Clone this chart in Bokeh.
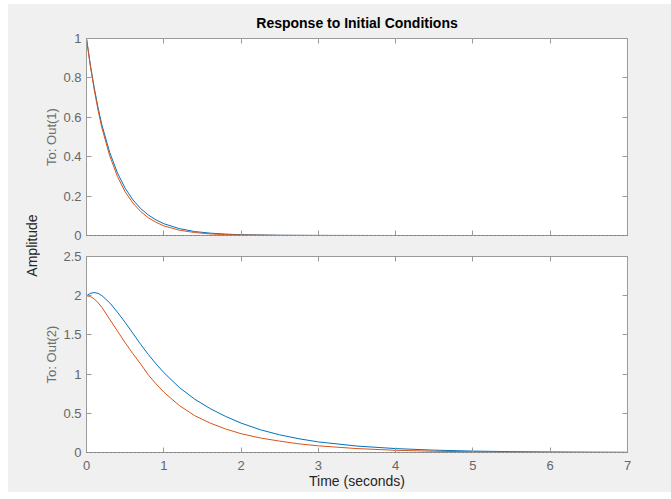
from bokeh.plotting import figure
from bokeh.models import Range1d, LinearAxis, FixedTicker, Span, Label
from bokeh.layouts import row, column
from bokeh.embed import file_html
from bokeh.resources import INLINE

# ---------------- data ----------------
t_top = [0, 0.05, 0.1, 0.15, 0.2, 0.3, 0.4, 0.5, 0.6, 0.7, 0.8, 0.9, 1.0,
         1.2, 1.4, 1.6, 1.8, 2.0, 2.5, 3.0, 4.0, 5.0, 6.0, 7.0]
out1_blue = [1.0, 0.865, 0.75, 0.648, 0.56, 0.422, 0.318, 0.24, 0.181, 0.137,
             0.104, 0.079, 0.060, 0.035, 0.020, 0.012, 0.007, 0.004, 0.0012,
             0.0004, 0.0, 0.0, 0.0, 0.0]
out1_orange = [1.0, 0.86, 0.74, 0.635, 0.545, 0.405, 0.30, 0.222, 0.165, 0.122,
               0.090, 0.067, 0.049, 0.027, 0.015, 0.008, 0.0045, 0.0025, 0.0006,
               0.0002, 0.0, 0.0, 0.0, 0.0]

t_bot = [0, 0.05, 0.1, 0.15, 0.2, 0.3, 0.4, 0.5, 0.6, 0.7, 0.8, 0.9, 1.0,
         1.2, 1.4, 1.6, 1.8, 2.0, 2.25, 2.5, 2.75, 3.0, 3.5, 4.0, 4.5, 5.0,
         5.5, 6.0, 6.5, 7.0]
out2_blue = [2.00, 2.03, 2.04, 2.03, 2.00, 1.91, 1.79, 1.66, 1.52, 1.38, 1.25,
             1.13, 1.02, 0.83, 0.68, 0.56, 0.46, 0.375, 0.29, 0.225, 0.175,
             0.135, 0.082, 0.05, 0.03, 0.018, 0.011, 0.0065, 0.004, 0.0025]
out2_orange = [2.00, 1.99, 1.96, 1.91, 1.85, 1.70, 1.55, 1.40, 1.26, 1.13, 0.99,
               0.875, 0.77, 0.60, 0.47, 0.375, 0.30, 0.24, 0.185, 0.145, 0.11,
               0.085, 0.05, 0.028, 0.016, 0.009, 0.005, 0.003, 0.0015, 0.001]

x_ticks = [0, 1, 2, 3, 4, 5, 6, 7]
x_tick_labels = ["0", "1", "2", "3", "4", "5", "6", "7"]
y1_ticks = [0, 0.2, 0.4, 0.6, 0.8, 1.0]
y1_tick_labels = ["0", "0.2", "0.4", "0.6", "0.8", "1"]
y2_ticks = [0, 0.5, 1.0, 1.5, 2.0, 2.5]
y2_tick_labels = ["0", "0.5", "1", "1.5", "2", "2.5"]

title_text = "Response to Initial Conditions"
ylabel_common = "Amplitude"
ylabel_1 = "To: Out(1)"
ylabel_2 = "To: Out(2)"
xlabel_text = "Time (seconds)"

# ---------------- styles ----------------
BLUE = "#0072BD"
ORANGE = "#D95319"
GRAY_BG = "#f0f0f0"
BOX = "#9a9a9a"
TICKLAB = "#666666"
FONT = "Liberation Sans"


def style_axis(ax, ticks, labels=None, show_labels=True):
    ax.ticker = FixedTicker(ticks=ticks)
    ax.axis_line_color = BOX
    ax.major_tick_line_color = BOX
    ax.major_tick_in = 5
    ax.major_tick_out = 0
    ax.minor_tick_line_color = None
    ax.major_label_text_font = FONT
    if show_labels:
        ax.major_label_text_color = TICKLAB
        ax.major_label_text_font_size = "13px"
        ax.major_label_overrides = {tk: lb for tk, lb in zip(ticks, labels)}
    else:
        # tick marks only: labels are not drawn at all
        ax.major_label_text_color = None
        ax.major_label_text_alpha = 0
        ax.major_label_text_font_size = "1px"
        ax.major_label_standoff = 0


def make_panel(height, top, bottom, yticks, ylabels, ylab, xlabels_visible):
    p = figure(width=631, height=height, output_backend="svg",
               toolbar_location=None, x_range=Range1d(0, 7),
               y_range=Range1d(yticks[0], yticks[-1]),
               min_border_left=46, min_border_right=44,
               min_border_top=top, min_border_bottom=bottom)
    p.border_fill_color = GRAY_BG
    p.background_fill_color = "white"
    p.outline_line_color = BOX
    p.grid.visible = False
    xa = p.xaxis[0]
    ya = p.yaxis[0]
    style_axis(xa, x_ticks, x_tick_labels, show_labels=xlabels_visible)
    style_axis(ya, yticks, ylabels)
    ya.major_label_standoff = 5
    ya.axis_label = ylab
    ya.axis_label_text_font = FONT
    ya.axis_label_text_font_size = "13px"
    ya.axis_label_text_font_style = "normal"
    ya.axis_label_text_color = "#6e6e6e"
    ya.axis_label_standoff = 1
    ra = LinearAxis()
    style_axis(ra, yticks, show_labels=False)
    p.add_layout(ra, "right")
    ta = LinearAxis()
    style_axis(ta, x_ticks, show_labels=False)
    p.add_layout(ta, "above")
    p.add_layout(Span(location=0, dimension="width", line_color="#404040",
                      line_dash="1 3", line_width=1))
    return p, xa, ya


p1, xa1, ya1 = make_panel(242, 34, 11, y1_ticks, y1_tick_labels, ylabel_1, False)
p1.line(t_top, out1_blue, line_color=BLUE, line_width=1)
p1.line(t_top, out1_orange, line_color=ORANGE, line_width=1)
p1.title.text = title_text
p1.title.align = "center"
p1.title.text_font = FONT
p1.title.text_font_size = "14px"
p1.title.text_font_style = "bold"
p1.title.text_color = "#000000"
p1.title.standoff = 15

p2, xa2, ya2 = make_panel(246, 10, 40, y2_ticks, y2_tick_labels, ylabel_2, True)
p2.line(t_bot, out2_blue, line_color=BLUE, line_width=1)
p2.line(t_bot, out2_orange, line_color=ORANGE, line_width=1)
xa2.major_label_standoff = 8
xa2.axis_label = xlabel_text
xa2.axis_label_text_font = FONT
xa2.axis_label_text_font_size = "14px"
xa2.axis_label_text_font_style = "normal"
xa2.axis_label_text_color = "#262626"
xa2.axis_label_standoff = 0

# left strip holding the shared y label
pl = figure(width=32, height=488, output_backend="svg", toolbar_location=None,
            x_axis_type=None, y_axis_type=None, x_range=Range1d(0, 32),
            y_range=Range1d(0, 488), min_border=0)
pl.border_fill_color = GRAY_BG
pl.background_fill_color = GRAY_BG
pl.outline_line_color = None
pl.grid.visible = False
pl.add_layout(Label(x=23.5, y=247, text=ylabel_common, angle=1.5707963,
                    text_align="center", text_baseline="middle",
                    text_font=FONT, text_font_size="14px",
                    text_color="#262626"))

layout = row(pl, column(p1, p2, spacing=0), spacing=0,
             styles={"background-color": GRAY_BG})
layout.margin = (4, 0, 0, 8)

open("out.html", "w").write(file_html(layout, INLINE))
